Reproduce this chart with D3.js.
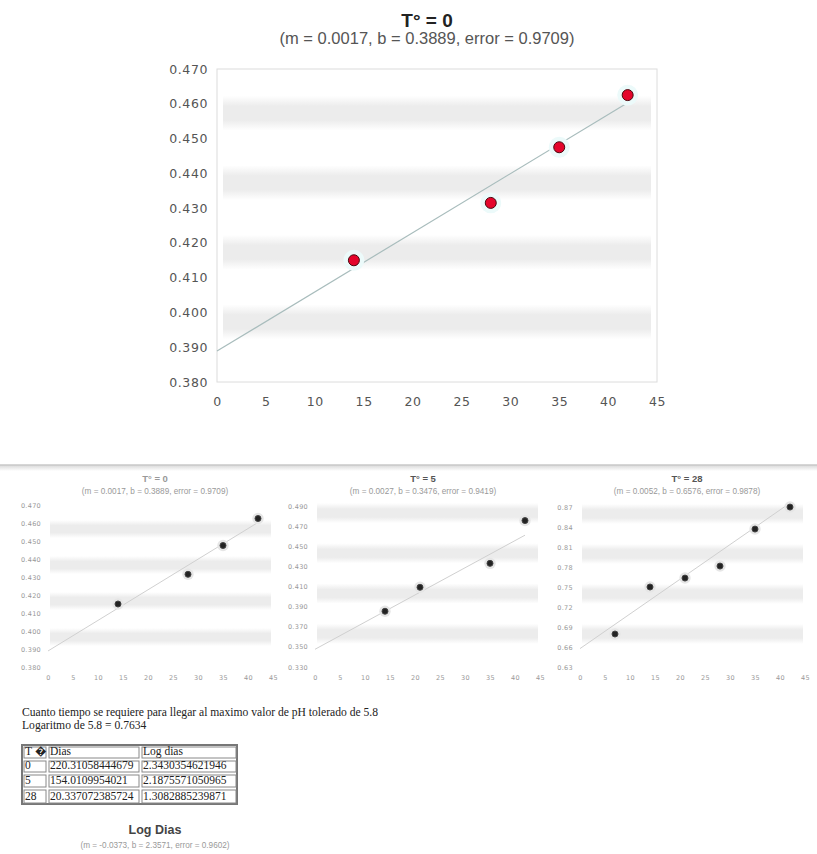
<!DOCTYPE html>
<html>
<head>
<meta charset="utf-8">
<script src="https://cdn.jsdelivr.net/npm/d3@7/dist/d3.min.js"></script>
<style>
  body{margin:0;background:#fff;}
  svg{display:block;}
</style>
</head>
<body>
<svg id="page" width="817" height="854"></svg>
<script>
// pH medido por dia, una serie por temperatura
const dias0 = [14, 28, 35, 42]
const ph0 = [0.415, 0.4315, 0.4475, 0.4625]
const dias5 = [14, 21, 35, 42]
const ph5 = [0.3854, 0.4092, 0.4330, 0.4755]
const dias28 = [7, 14, 21, 28, 35, 42]
const ph28 = [0.6795, 0.7500, 0.7634, 0.7814, 0.8369, 0.8699]

const temps = ["0", "5", "28"]
const fitM = [0.0017, 0.0027, 0.0052]
const fitB = [0.3889, 0.3476, 0.6576]
const fitError = [0.9709, 0.9419, 0.9878]

const xTicks = [0, 5, 10, 15, 20, 25, 30, 35, 40, 45]
const yTicks0 = [0.380, 0.390, 0.400, 0.410, 0.420, 0.430, 0.440, 0.450, 0.460, 0.470]
const yTicks5 = [0.330, 0.350, 0.370, 0.390, 0.410, 0.430, 0.450, 0.470, 0.490]
const yTicks28 = [0.63, 0.66, 0.69, 0.72, 0.75, 0.78, 0.81, 0.84, 0.87]

const tablaHeader = ["T \uFFFD", "Dias", "Log dias"]
const tablaDias = ["220.31058444679", "154.0109954021", "20.337072385724"]
const tablaLogDias = ["2.3430354621946", "2.1875571050965", "1.3082885239871"]

const logM = -0.0373
const logB = 2.3571
const logError = 0.9602

const svg = d3.select("#page")
const defs = svg.append("defs")
const band = defs.append("linearGradient").attr("id", "band")
    .attr("x1", 0).attr("y1", 0).attr("x2", 0).attr("y2", 1)
band.append("stop").attr("offset", "0%").attr("stop-color", "#fff")
band.append("stop").attr("offset", "30%").attr("stop-color", "#ececec")
band.append("stop").attr("offset", "70%").attr("stop-color", "#ececec")
band.append("stop").attr("offset", "100%").attr("stop-color", "#fff")
const shade = defs.append("linearGradient").attr("id", "shade")
    .attr("x1", 0).attr("y1", 0).attr("x2", 0).attr("y2", 1)
shade.append("stop").attr("offset", "0%").attr("stop-color", "#d8d8d8")
shade.append("stop").attr("offset", "100%").attr("stop-color", "#fff")

function drawFitChart(o, dias, ph, k, yTicks){
  const x = d3.scaleLinear().domain([xTicks[0], xTicks[xTicks.length-1]]).range([o.left, o.right])
  const y = d3.scaleLinear().domain([yTicks[0], yTicks[yTicks.length-1]]).range([o.bottom, o.top])
  const g = svg.append("g")

  // franjas grises alternas
  for(let i = 1; i < yTicks.length-1; i += 2){
    g.append("rect")
      .attr("x", o.left+o.bandInset).attr("width", o.right-o.left-2*o.bandInset)
      .attr("y", y(yTicks[i+1])-o.bandPad).attr("height", y(yTicks[i])-y(yTicks[i+1]))
      .attr("fill", "url(#band)")
  }
  if(o.border){
    g.append("rect")
      .attr("x", o.left).attr("y", o.top)
      .attr("width", o.right-o.left).attr("height", o.bottom-o.top)
      .attr("fill", "none").attr("stroke", o.border)
  }

  const yAxis = d3.axisLeft(y).tickValues(yTicks).tickSize(0).tickPadding(o.tickPad).tickFormat(d3.format(o.yFormat))
  const xAxis = d3.axisBottom(x).tickValues(xTicks).tickSize(0).tickPadding(o.xPad)
  const ya = g.append("g").attr("transform", "translate("+o.left+",0)").call(yAxis)
  const xa = g.append("g").attr("transform", "translate(0,"+o.bottom+")").call(xAxis)
  for(const a of [ya, xa]){
    a.select(".domain").remove()
    a.selectAll("text")
      .attr("font-family", o.tickFont).attr("font-size", o.tickSize)
      .attr("fill", o.tickColor).attr("letter-spacing", o.tickSpacing)
  }

  const xMax = d3.max(dias)
  g.append("line")
    .attr("x1", x(0)).attr("y1", y(fitB[k]))
    .attr("x2", x(xMax)).attr("y2", y(fitB[k]+fitM[k]*xMax))
    .attr("stroke", o.lineColor).attr("stroke-width", o.lineWidth)

  const pts = dias.map((d, i) => [d, ph[i]])
  g.selectAll(".halo").data(pts).join("circle")
    .attr("cx", d => x(d[0])).attr("cy", d => y(d[1]))
    .attr("r", o.r*1.9).attr("fill", o.haloColor)
  g.selectAll(".pt").data(pts).join("circle")
    .attr("cx", d => x(d[0])).attr("cy", d => y(d[1]))
    .attr("r", o.r).attr("fill", o.dotFill)
    .attr("stroke", o.dotStroke).attr("stroke-width", 1)

  const cx = o.titleX
  g.append("text").attr("x", cx).attr("y", o.titleY)
    .attr("text-anchor", "middle").attr("font-family", "Liberation Sans, Arial, sans-serif")
    .attr("font-weight", "bold").attr("font-size", o.titleSize).attr("fill", o.titleColor)
    .text("T\u00b0 = "+temps[k])
  g.append("text").attr("x", cx).attr("y", o.subY)
    .attr("text-anchor", "middle").attr("font-family", "Liberation Sans, Arial, sans-serif")
    .attr("font-size", o.subSize).attr("fill", o.subColor)
    .text("(m = "+fitM[k].toFixed(4)+", b = "+fitB[k].toFixed(4)+", error = "+fitError[k].toFixed(4)+")")
}

const big = {
  left: 217, right: 657, top: 69, bottom: 382, bandPad: 8, bandInset: 6, border: "#dcdcdc",
  tickPad: 9, xPad: 15, yFormat: ".3f",
  tickFont: "DejaVu Sans, sans-serif", tickSize: 12.5, tickColor: "#555", tickSpacing: 0.6,
  lineColor: "#a8bcbc", lineWidth: 1.2, r: 5.5, haloColor: "#ecfafa",
  dotFill: "#e4062c", dotStroke: "#4a0a10",
  titleX: 427, titleY: 27, titleSize: 19, titleColor: "#222",
  subY: 44, subSize: 16.5, subColor: "#555"
}
drawFitChart(big, dias0, ph0, 0, yTicks0)

// separador
svg.append("rect").attr("x", 0).attr("y", 465).attr("width", 817).attr("height", 6).attr("fill", "url(#shade)")
svg.append("line").attr("x1", 0).attr("x2", 817).attr("y1", 465).attr("y2", 465)
  .attr("stroke", "#c8c8c8").attr("stroke-width", 1.5)

const small = {
  bandPad: 3, bandInset: 2, border: null, tickPad: 7, xPad: 8,
  tickFont: "DejaVu Sans, sans-serif", tickSize: 6.5, tickColor: "#999", tickSpacing: 0.3,
  lineColor: "#d0d0d0", lineWidth: 1, r: 3, haloColor: "#e6e6e6",
  dotFill: "#222", dotStroke: "#444",
  titleY: 482, titleSize: 9.5, titleColor: "#555",
  subY: 494, subSize: 8.2, subColor: "#999"
}
drawFitChart(Object.assign({}, small, {left: 48, right: 273, top: 505, bottom: 667, yFormat: ".3f", titleX: 155, titleColor: "#999"}), dias0, ph0, 0, yTicks0)
drawFitChart(Object.assign({}, small, {left: 315, right: 540, top: 506, bottom: 667, yFormat: ".3f", titleX: 423}), dias5, ph5, 1, yTicks5)
drawFitChart(Object.assign({}, small, {left: 580, right: 805, top: 507, bottom: 667, yFormat: ".2f", titleX: 687}), dias28, ph28, 2, yTicks28)

// texto y tabla
const serif = "Liberation Serif, Times New Roman, serif"
svg.append("text").attr("x", 22).attr("y", 716).attr("font-family", serif).attr("font-size", 11.6).attr("fill", "#222")
  .text("Cuanto tiempo se requiere para llegar al maximo valor de pH tolerado de 5.8")
svg.append("text").attr("x", 22).attr("y", 729).attr("font-family", serif).attr("font-size", 11.6).attr("fill", "#222")
  .text("Logaritmo de 5.8 = 0.7634")

const colX = [22, 47, 140, 237]
const rowY = [745, 759, 773, 788, 804]
const rows = [tablaHeader].concat(temps.map((t, i) => [t, tablaDias[i], tablaLogDias[i]]))
const tg = svg.append("g")
tg.append("rect").attr("x", colX[0]).attr("y", rowY[0])
  .attr("width", colX[3]-colX[0]).attr("height", rowY[4]-rowY[0])
  .attr("fill", "none").attr("stroke", "#777").attr("stroke-width", 2)
rows.forEach((r, ri) => {
  r.forEach((c, ci) => {
    tg.append("rect")
      .attr("x", colX[ci]+2).attr("y", rowY[ri]+2)
      .attr("width", colX[ci+1]-colX[ci]-3).attr("height", rowY[ri+1]-rowY[ri]-3)
      .attr("fill", "none").attr("stroke", "#888").attr("stroke-width", 1)
    tg.append("text")
      .attr("x", colX[ci]+3).attr("y", rowY[ri+1]-4)
      .attr("font-family", serif).attr("font-size", 11.5).attr("fill", "#222")
      .text(c)
  })
})

svg.append("text").attr("x", 155).attr("y", 834).attr("text-anchor", "middle")
  .attr("font-family", "Liberation Sans, Arial, sans-serif").attr("font-weight", "bold")
  .attr("font-size", 12.5).attr("fill", "#444").text("Log Dias")
svg.append("text").attr("x", 155).attr("y", 848).attr("text-anchor", "middle")
  .attr("font-family", "Liberation Sans, Arial, sans-serif")
  .attr("font-size", 8.2).attr("fill", "#999")
  .text("(m = "+logM.toFixed(4)+", b = "+logB.toFixed(4)+", error = "+logError.toFixed(4)+")")
</script>
</body>
</html>
